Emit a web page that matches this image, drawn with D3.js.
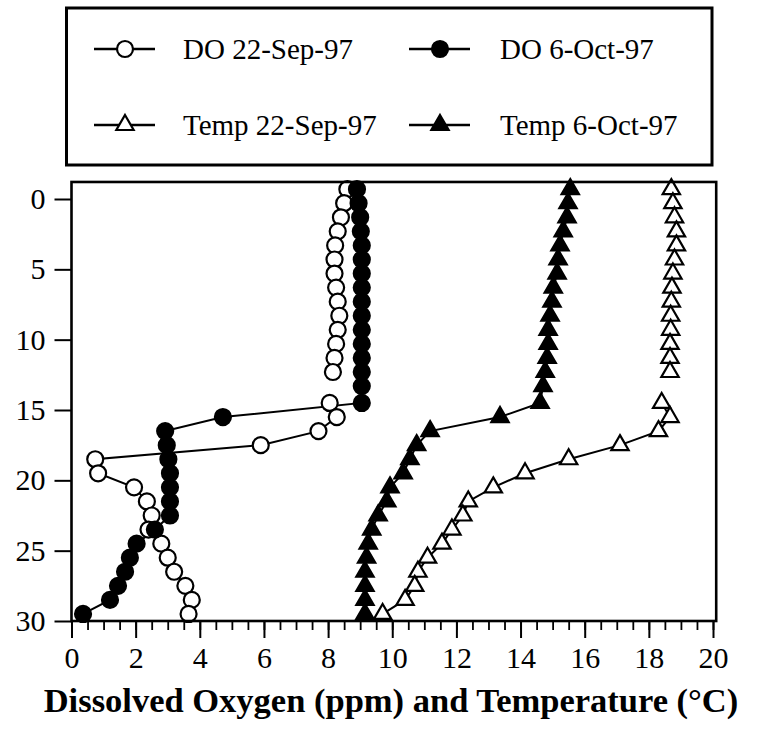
<!DOCTYPE html>
<html>
<head>
<meta charset="utf-8">
<script src="https://cdn.jsdelivr.net/npm/d3@7"></script>
<style>
  html, body { margin: 0; padding: 0; background: #fff; }
  svg { display: block; }
</style>
</head>
<body>
<svg id="chart" width="757" height="732"></svg>
<script>
// Sampling depths (m); the 22-Sep profile has no reading at the 13.3 m level
const depths = [-0.7, 0.3, 1.3, 2.3, 3.3, 4.3, 5.3, 6.3, 7.3, 8.3, 9.3, 10.3, 11.3, 12.3, 13.3,
                14.5, 15.5, 16.5, 17.5, 18.5, 19.5, 20.5, 21.5, 22.5, 23.5, 24.5, 25.5, 26.5, 27.5, 28.5, 29.5];

// Dissolved oxygen (ppm)
const doSep = [8.6, 8.5, 8.4, 8.3, 8.22, 8.2, 8.2, 8.25, 8.3, 8.35, 8.3, 8.25, 8.2, 8.15, null,
               8.05, 8.27, 7.7, 5.9, 0.74, 0.83, 1.95, 2.35, 2.5, 2.4, 2.8, 3.0, 3.2, 3.55, 3.75, 3.65];
const doOct = [8.9, 8.95, 9.0, 9.02, 9.05, 9.05, 9.05, 9.05, 9.05, 9.05, 9.05, 9.05, 9.05, 9.05, 9.05,
               9.05, 4.72, 2.92, 2.97, 3.02, 3.07, 3.07, 3.07, 3.07, 2.6, 2.03, 1.82, 1.67, 1.45, 1.2, 0.36];

// Temperature (°C)
const tempSep = [18.7, 18.75, 18.8, 18.86, 18.86, 18.8, 18.75, 18.72, 18.7, 18.68, 18.68, 18.66, 18.66, 18.66, null,
                 18.4, 18.66, 18.3, 17.1, 15.5, 14.14, 13.15, 12.37, 12.2, 11.86, 11.55, 11.1, 10.8, 10.7, 10.4, 9.7];
const tempOct = [15.55, 15.48, 15.45, 15.33, 15.23, 15.17, 15.14, 15.02, 14.98, 14.92, 14.86, 14.86, 14.83, 14.77, 14.7,
                 14.61, 13.36, 11.18, 10.76, 10.55, 10.34, 9.93, 9.83, 9.56, 9.36, 9.25, 9.2, 9.15, 9.15, 9.15, 9.15];

const xTicks = [0, 2, 4, 6, 8, 10, 12, 14, 16, 18, 20];
const yTicks = [0, 5, 10, 15, 20, 25, 30];

const seriesNames = ["DO 22-Sep-97", "DO 6-Oct-97", "Temp 22-Sep-97", "Temp 6-Oct-97"];
const xTitle = "Dissolved Oxygen (ppm) and Temperature (°C)";

const FONT = "'Liberation Serif', 'DejaVu Serif', serif";

const svg = d3.select("#chart");

const x = d3.scaleLinear().domain([0, 20]).range([71.5, 713]);
const y = d3.scaleLinear().domain([0, 30]).range([199, 621]);
const frameTop = y(-1.21);
const frameRight = x(20.1);

// series definitions: values, marker shape, fill
const series = [
  { name: seriesNames[0], values: doSep,   shape: "circle",   fill: "#fff" },
  { name: seriesNames[2], values: tempSep, shape: "triangle", fill: "#fff" },
  { name: seriesNames[1], values: doOct,   shape: "circle",   fill: "#000" },
  { name: seriesNames[3], values: tempOct, shape: "triangle", fill: "#000" }
];

const triSym = d3.symbol().type(d3.symbolTriangle).size(130);

const plot = svg.append("g");

// connecting lines
const line = d3.line()
  .defined(d => d.v !== null)
  .x(d => x(d.v))
  .y(d => y(d.d));

series.forEach(s => {
  const pts = depths.map((d, i) => ({ d: d, v: s.values[i] }));
  plot.append("path")
    .datum(pts)
    .attr("d", line)
    .attr("fill", "none")
    .attr("stroke", "#000")
    .attr("stroke-width", 2);
});

// markers
function drawMarker(g, shape, fill, cx, cy) {
  if (shape === "circle") {
    g.append("circle")
      .attr("cx", cx).attr("cy", cy).attr("r", 8)
      .attr("fill", fill).attr("stroke", "#000").attr("stroke-width", 2.2);
  } else {
    g.append("path")
      .attr("d", triSym())
      .attr("transform", `translate(${cx},${cy})`)
      .attr("fill", fill).attr("stroke", "#000").attr("stroke-width", 2.2)
      .attr("stroke-linejoin", "miter");
  }
}

series.forEach(s => {
  const g = plot.append("g");
  depths.forEach((d, i) => {
    const v = s.values[i];
    if (v === null) return;
    drawMarker(g, s.shape, s.fill, x(v), y(d));
  });
});

// axes
const xMinor = d3.range(0, 20.01, 0.5);
svg.append("g")
  .attr("transform", `translate(0,${y(30)})`)
  .call(d3.axisBottom(x).tickValues(xMinor).tickSize(9).tickFormat(""))
  .call(g => g.select(".domain").remove())
  .call(g => g.selectAll("line").attr("stroke-width", 1.8));

const xAxis = svg.append("g")
  .attr("transform", `translate(0,${y(30)})`)
  .call(d3.axisBottom(x).tickValues(xTicks).tickSize(17).tickPadding(9).tickFormat(d3.format("d")));
xAxis.attr("font-family", null);
xAxis.select(".domain").remove();
xAxis.selectAll("line").attr("stroke-width", 2);
xAxis.selectAll("text").attr("font-size", 30).style("font-family", FONT);

const yAxis = svg.append("g")
  .attr("transform", `translate(${x(0)},0)`)
  .call(d3.axisLeft(y).tickValues(yTicks).tickSize(17).tickPadding(9).tickFormat(d3.format("d")));
yAxis.attr("font-family", null);
yAxis.select(".domain").remove();
yAxis.selectAll("line").attr("stroke-width", 2);
yAxis.selectAll("text").attr("font-size", 30).style("font-family", FONT);

// plot frame
svg.append("rect")
  .attr("x", x(0)).attr("y", frameTop)
  .attr("width", frameRight - x(0)).attr("height", y(30) - frameTop)
  .attr("fill", "none").attr("stroke", "#000").attr("stroke-width", 2.6);

// axis title
svg.append("text")
  .attr("x", 391).attr("y", 712)
  .attr("text-anchor", "middle")
  .attr("font-size", 34.5).attr("font-weight", "bold")
  .style("font-family", FONT)
  .text(xTitle);

// legend
const legend = svg.append("g");
legend.append("rect")
  .attr("x", 66.5).attr("y", 8).attr("width", 645.5).attr("height", 157)
  .attr("fill", "#fff").attr("stroke", "#000").attr("stroke-width", 3);

const legendItems = [
  { name: seriesNames[0], shape: "circle",   fill: "#fff", lx: 94,  tx: 183, ly: 49 },
  { name: seriesNames[1], shape: "circle",   fill: "#000", lx: 409, tx: 500, ly: 49 },
  { name: seriesNames[2], shape: "triangle", fill: "#fff", lx: 94,  tx: 183, ly: 125 },
  { name: seriesNames[3], shape: "triangle", fill: "#000", lx: 409, tx: 500, ly: 125 }
];
legendItems.forEach(it => {
  legend.append("line")
    .attr("x1", it.lx).attr("x2", it.lx + 61)
    .attr("y1", it.ly).attr("y2", it.ly)
    .attr("stroke", "#000").attr("stroke-width", 2.6);
  drawMarker(legend, it.shape, it.fill, it.lx + 31, it.ly);
  legend.append("text")
    .attr("x", it.tx).attr("y", it.ly)
    .attr("dy", "0.36em")
    .attr("font-size", 29)
    .style("font-family", FONT)
    .text(it.name);
});
</script>
</body>
</html>
